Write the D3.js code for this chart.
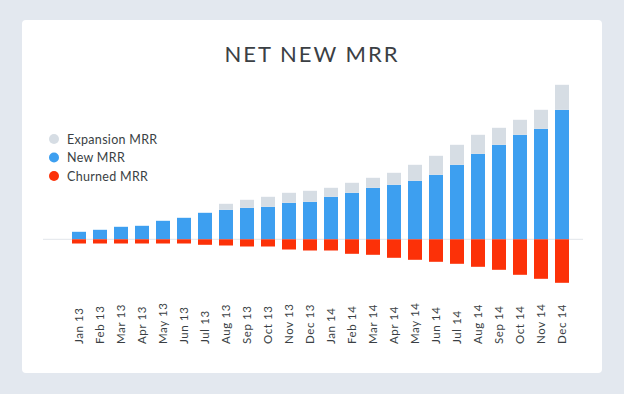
<!DOCTYPE html>
<html lang="en">
<head>
  <meta charset="UTF-8">
  <title>Net New MRR</title>
  <script src="https://d3js.org/d3.v7.min.js"></script>
  <style>
    body {
      margin: 0;
      background: #e3e8ef;
      font-family: Lato, sans-serif;
    }
    .card {
      fill: #fff;
    }
    .tick-label {
      font-size: 11.5px;
      letter-spacing: 0.6px;
      fill: #3a3f44;
    }
    .legend-label {
      font-size: 12.5px;
      letter-spacing: 0.3px;
      fill: #3a3f44;
    }
  </style>
</head>
<body>
  <svg width="624" height="394"></svg>

  <script>
    // values in $k
    const months = ["Jan 13", "Feb 13", "Mar 13", "Apr 13", "May 13", "Jun 13", "Jul 13", "Aug 13",
      "Sep 13", "Oct 13", "Nov 13", "Dec 13", "Jan 14", "Feb 14", "Mar 14", "Apr 14", "May 14",
      "Jun 14", "Jul 14", "Aug 14", "Sep 14", "Oct 14", "Nov 14", "Dec 14"];
    const newMrr = [7.5, 9.5, 12.5, 13.5, 18.5, 21.5, 26.5, 29.5, 31.5, 32.5, 36.5, 37.5,
      42.5, 46.5, 51.5, 54.5, 58.5, 64.5, 74.5, 85.5, 94.5, 104.5, 110.5, 129.5];
    const expansionMrr = [0, 0, 0, 0, 0, 0, 0, 6, 8, 10, 10, 11,
      9, 10, 10, 12, 16, 19, 20, 19, 17, 15, 19, 25];
    const churnedMrr = [4.2, 4.2, 4.2, 4.2, 4.2, 4.2, 5.5, 6.2, 7.2, 7.2, 10.2, 11.2,
      11.2, 14.5, 15.5, 18.5, 20.5, 22.5, 24.5, 27.5, 30.5, 35.5, 39.5, 43.5];

    const seriesNames = ["Expansion MRR", "New MRR", "Churned MRR"];
    const colors = { "Expansion MRR": "#d6dde4", "New MRR": "#3d9ff0", "Churned MRR": "#fc3108" };

    const svg = d3.select("svg");

    svg.append("rect")
      .attr("class", "card")
      .attr("x", 22).attr("y", 20)
      .attr("width", 580).attr("height", 353)
      .attr("rx", 4);

    svg.append("text")
      .attr("x", 312)
      .attr("y", 62)
      .attr("text-anchor", "middle")
      .attr("font-size", "22px")
      .attr("letter-spacing", "2px")
      .attr("fill", "#3b4044")
      .text("NET NEW MRR");

    const x = d3.scaleBand()
      .domain(months)
      .range([68.5, 572.5])
      .paddingInner(1 / 3)
      .paddingOuter(1 / 6);

    const y = d3.scaleLinear()
      .domain([-50, 150])
      .range([289.3, 89.3]);

    // zero line
    svg.append("line")
      .attr("x1", 43).attr("x2", 583)
      .attr("y1", y(0)).attr("y2", y(0))
      .attr("stroke", "#e1e5ea")
      .attr("stroke-width", 1);

    const rows = months.map((m, i) => ({
      month: m, newV: newMrr[i], exp: expansionMrr[i], churn: churnedMrr[i]
    }));

    const bars = svg.append("g");

    bars.selectAll(".new")
      .data(rows)
      .join("rect")
      .attr("class", "new")
      .attr("x", d => x(d.month))
      .attr("width", x.bandwidth())
      .attr("y", d => y(d.newV))
      .attr("height", d => y(0) - y(d.newV))
      .attr("fill", colors["New MRR"]);

    bars.selectAll(".exp")
      .data(rows.filter(d => d.exp > 0))
      .join("rect")
      .attr("class", "exp")
      .attr("x", d => x(d.month))
      .attr("width", x.bandwidth())
      .attr("y", d => y(d.newV + d.exp))
      .attr("height", d => y(d.newV) - y(d.newV + d.exp))
      .attr("fill", colors["Expansion MRR"]);

    bars.selectAll(".churn")
      .data(rows)
      .join("rect")
      .attr("class", "churn")
      .attr("x", d => x(d.month))
      .attr("width", x.bandwidth())
      .attr("y", y(0))
      .attr("height", d => y(-d.churn) - y(0))
      .attr("fill", colors["Churned MRR"]);

    // month labels, rotated
    svg.append("g")
      .selectAll("text")
      .data(months)
      .join("text")
      .attr("class", "tick-label")
      .attr("transform", d => `translate(${x(d) + x.bandwidth() / 2 + 4},344) rotate(-90)`)
      .text(d => d);

    const legend = svg.append("g")
      .attr("transform", "translate(54,139)");

    seriesNames.forEach((name, i) => {
      const g = legend.append("g").attr("transform", `translate(0,${i * 18.5})`);
      g.append("circle")
        .attr("r", 5)
        .attr("fill", colors[name]);
      g.append("text")
        .attr("class", "legend-label")
        .attr("x", 13)
        .attr("y", 4.5)
        .text(name);
    });
  </script>
</body>
</html>
